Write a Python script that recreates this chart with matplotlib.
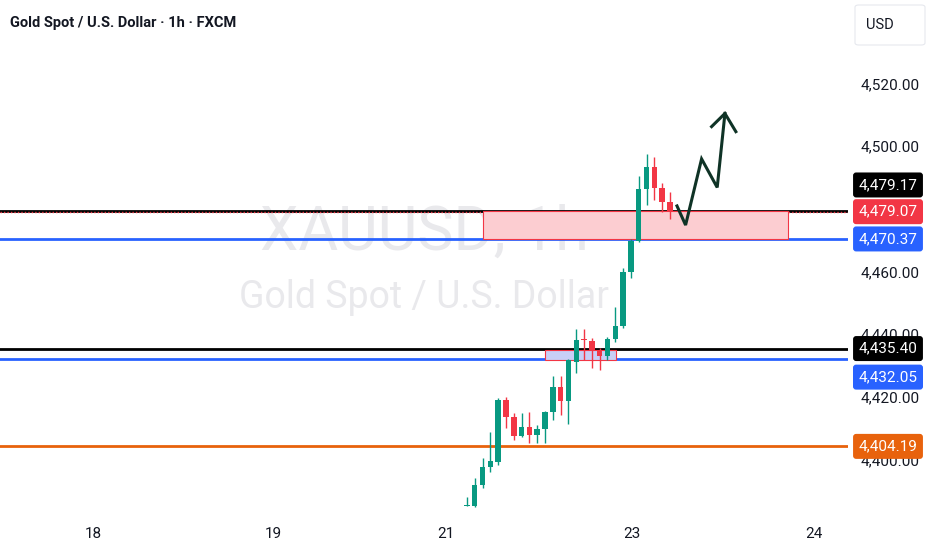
import numpy as np
import matplotlib
matplotlib.use('Agg')
import matplotlib.pyplot as plt
from matplotlib.patches import Rectangle, FancyBboxPatch
from matplotlib.ticker import FuncFormatter
import matplotlib.transforms as mtransforms

# hourly candles, XAUUSD
opens  = [4385.2, 4385.2, 4391.9, 4397.6, 4399.2, 4419.0, 4413.6, 4407.5, 4410.4, 4407.8,
          4409.7, 4415.2, 4423.1, 4418.7, 4431.1, 4438.4, 4437.8, 4434.9, 4433.0, 4438.4,
          4442.6, 4459.8, 4469.7, 4486.3, 4493.3, 4486.6, 4482.1]
highs  = [4388.0, 4394.1, 4400.5, 4408.8, 4419.6, 4419.9, 4414.8, 4414.8, 4415.2, 4411.0,
          4415.5, 4426.6, 4426.6, 4432.0, 4441.6, 4441.6, 4438.8, 4435.6, 4439.1, 4448.6,
          4461.1, 4470.3, 4490.4, 4497.4, 4496.5, 4488.2, 4485.3]
lows   = [4385.1, 4384.8, 4390.9, 4396.0, 4398.2, 4410.1, 4406.2, 4407.2, 4405.3, 4405.3,
          4405.3, 4412.6, 4414.2, 4411.3, 4427.6, 4431.7, 4429.2, 4428.5, 4431.7, 4437.5,
          4442.0, 4457.9, 4469.4, 4481.2, 4482.8, 4478.9, 4476.7]
closes = [4385.5, 4391.9, 4397.6, 4399.5, 4419.0, 4413.6, 4407.5, 4410.4, 4407.8, 4409.7,
          4415.2, 4423.1, 4418.7, 4431.7, 4438.1, 4438.1, 4434.6, 4433.0, 4438.4, 4442.6,
          4459.8, 4469.7, 4486.3, 4493.3, 4486.6, 4482.1, 4479.07]

day_ticks = [-47.9, -24.8, -2.7, 21.1, 44.5]
day_labels = ['18', '19', '21', '23', '24']
price_ticks = [4400, 4420, 4440, 4460, 4500, 4520]

# horizontal levels
level_values = [4479.17, 4470.37, 4435.40, 4432.05, 4404.19]
level_colors = ['#000000', '#2962ff', '#000000', '#2962ff', '#e8620c']
last_price = 4479.07

# zones (bar index from/to, price low/high)
zone_pink = (2.05, 41.1, 4470.37, 4479.17)
zone_blue = (10.0, 19.1, 4431.7, 4434.9)

# projected path drawn by hand
path_x = [26.9, 28.0, 30.05, 32.05, 33.04]
path_y = [4480.9, 4474.8, 4495.9, 4486.8, 4510.4]
head_x = [31.33, 33.04, 34.44]
head_y = [4506.2, 4510.4, 4504.6]

up_col = '#089981'
dn_col = '#f23645'
font_narrow = ['Liberation Sans Narrow', 'Roboto', 'DejaVu Sans']

fig = plt.figure(figsize=(9.32, 5.5), dpi=100)
ax = fig.add_axes([0, 35 / 550, 848 / 932, 515 / 550])
ax.set_xlim(-59.8, 48.8)
ax.set_ylim(4382.3, 4546.6)

# watermark
ax.text(0.5, 0.515, 'XAUUSD, 1h', transform=ax.transAxes, ha='center', va='baseline',
        fontsize=44, color='#e9e9ec', family='Roboto', zorder=0)
ax.text(0.5, 0.402, 'Gold Spot / U.S. Dollar', transform=ax.transAxes, ha='center',
        va='baseline', fontsize=27, color='#e9e9ec', family='Roboto', zorder=0)

# levels
for v, c in zip(level_values, level_colors):
    ax.axhline(v, color=c, lw=2, zorder=2)
ax.axhline(last_price, color=dn_col, lw=1, ls=(0, (1, 1.5)), zorder=2.5)

# zones
x0, x1, y0, y1 = zone_pink
ax.add_patch(Rectangle((x0, y0), x1 - x0, y1 - y0, facecolor='#fccdd1',
                       edgecolor=dn_col, lw=0.8, zorder=3))
x0, x1, y0, y1 = zone_blue
ax.add_patch(Rectangle((x0, y0), x1 - x0, y1 - y0, facecolor='#c8cff7',
                       edgecolor=dn_col, lw=0.8, zorder=3))

# candles
idx = np.arange(len(opens))
o = np.array(opens); c = np.array(closes)
colors = [up_col if cc >= oo else dn_col for oo, cc in zip(o, c)]
ax.vlines(idx, lows, highs, colors=colors, lw=1, zorder=4)
body_lo = np.minimum(o, c)
body_h = np.maximum(np.abs(c - o), 0.35)
ax.bar(idx, body_h, bottom=body_lo, width=0.7, color=colors, lw=0, zorder=5)

# hand drawn arrow
ax.plot(path_x, path_y, color='#0f3326', lw=2.2, solid_joinstyle='miter', zorder=6)
ax.plot(head_x, head_y, color='#0f3326', lw=2.2, solid_joinstyle='miter', zorder=6)

# axes styling
for s in ax.spines.values():
    s.set_visible(False)
ax.set_xticks(day_ticks)
ax.set_xticklabels(day_labels)
ax.yaxis.tick_right()
ax.set_yticks(price_ticks)
ax.yaxis.set_major_formatter(FuncFormatter(lambda v, p: f'{v:,.2f}'))
ax.tick_params(axis='y', length=0, pad=9, labelsize=11, labelcolor='#131722')
ax.tick_params(axis='x', length=0, pad=9, labelsize=11, labelcolor='#131722')
for t in ax.get_yticklabels():
    t.set_family('Roboto')
for t in ax.get_xticklabels():
    t.set_family(font_narrow)

# price labels on the right scale
tr = mtransforms.blended_transform_factory(ax.transAxes, ax.transData)
label_values = [4479.17, last_price, 4470.37, 4435.40, 4432.05, 4404.19]
label_colors = ['#000000', dn_col, '#2962ff', '#000000', '#2962ff', '#e8620c']
label_shift = [19, 0, 0, 0, -13, 0]  # points, to keep the stacked labels apart
for v, col, dy in zip(label_values, label_colors, label_shift):
    ax.annotate(f'{v:,.2f}', xy=(888 / 848, v), xycoords=tr, xytext=(0, dy),
                textcoords='offset points', ha='center', va='center', fontsize=11,
                family='Roboto', color='white', annotation_clip=False, zorder=10,
                bbox=dict(boxstyle='round,pad=0.36,rounding_size=0.2', fc=col, ec='none'))

# currency box and title
fig.patches.append(FancyBboxPatch((855 / 932, 505 / 550), 70 / 932, 40 / 550,
                                  boxstyle='round,pad=0,rounding_size=0.004',
                                  transform=fig.transFigure, fc='white',
                                  ec='#e6e8ee', lw=0.8))
fig.text(866 / 932, 525 / 550, 'USD', ha='left', va='center', fontsize=10.5,
         family='Roboto', color='#131722')
fig.text(10 / 932, 527 / 550, 'Gold Spot / U.S. Dollar \u00b7 1h \u00b7 FXCM', ha='left',
         va='center', fontsize=10.5, fontweight='bold', family=font_narrow, color='#131722')

fig.savefig('out.png', dpi=100)
